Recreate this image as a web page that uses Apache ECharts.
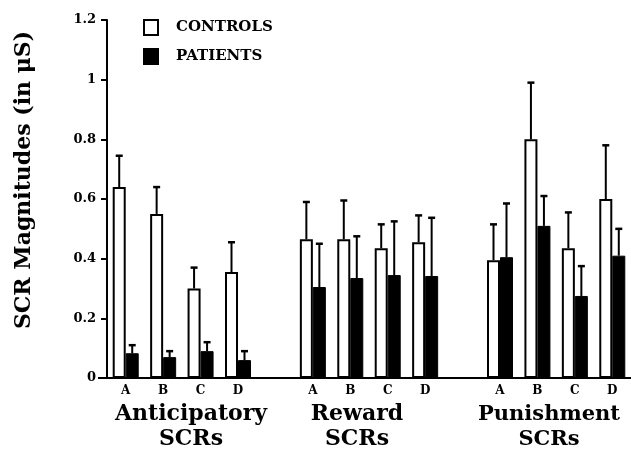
<!DOCTYPE html>
<html>
<head>
<meta charset="utf-8">
<script src="https://cdn.jsdelivr.net/npm/echarts@6/dist/echarts.min.js"></script>
<style>
  html, body { margin: 0; padding: 0; background: #fff; }
  #main { width: 631px; height: 449px; }
</style>
</head>
<body>
<div id="main"></div>
<script>
const groups = ["Anticipatory\nSCRs", "Reward\nSCRs", "Punishment\nSCRs"];
const conditions = ["A", "B", "C", "D"];
const yTicks = [0, 0.2, 0.4, 0.6, 0.8, 1, 1.2];

// means and standard errors, 4 per group
const controls = [0.64, 0.55, 0.30, 0.355, 0.465, 0.465, 0.435, 0.455, 0.395, 0.80, 0.435, 0.60];
const controlsErr = [0.105, 0.09, 0.07, 0.10, 0.125, 0.13, 0.08, 0.09, 0.12, 0.19, 0.12, 0.18];
const patients = [0.083, 0.07, 0.09, 0.06, 0.305, 0.335, 0.345, 0.342, 0.405, 0.51, 0.275, 0.41];
const patientsErr = [0.027, 0.02, 0.03, 0.03, 0.145, 0.14, 0.18, 0.195, 0.18, 0.10, 0.10, 0.09];

const font = "DejaVu Serif";

// one empty slot between groups
const slots = [];
groups.forEach(function (g, gi) {
  if (gi > 0) slots.push(null);
  conditions.forEach(function (c, ci) { slots.push(gi * 4 + ci); });
});
const categories = slots.map(function (k) { return k === null ? "" : conditions[k % 4]; });

function slotValues(arr) {
  return slots.map(function (k) { return k === null ? "-" : arr[k]; });
}
function errData(means, errs) {
  const out = [];
  slots.forEach(function (k, i) {
    if (k !== null) out.push([i, means[k], errs[k]]);
  });
  return out;
}

function errItem(offset) {
  return function (params, api) {
    const i = api.value(0);
    const base = api.coord([i, api.value(1)]);
    const top = api.coord([i, api.value(1) + api.value(2)]);
    const x = base[0] + offset;
    return {
      type: "group",
      children: [
        { type: "line", shape: { x1: x, y1: base[1], x2: x, y2: top[1] }, style: { stroke: "#000", lineWidth: 2 } },
        { type: "line", shape: { x1: x - 3.5, y1: top[1], x2: x + 3.5, y2: top[1] }, style: { stroke: "#000", lineWidth: 2.5 } }
      ]
    };
  };
}

const chart = echarts.init(document.getElementById("main"));

chart.setOption({
  animation: false,
  grid: { left: 107, right: 0, top: 20, bottom: 71 },
  legend: {
    left: 143, top: 19, padding: 0, orient: "vertical", icon: "rect",
    itemWidth: 14, itemHeight: 15, itemGap: 12,
    data: ["CONTROLS", "PATIENTS"],
    textStyle: { fontFamily: font, fontWeight: "bold", fontSize: 15, color: "#000", padding: [0, 0, 0, 13] }
  },
  xAxis: {
    type: "category",
    data: categories,
    axisLine: { lineStyle: { color: "#000", width: 2 } },
    axisTick: { show: false },
    axisLabel: { interval: 0, margin: 7, color: "#000", fontFamily: font, fontWeight: "bold", fontSize: 12 }
  },
  yAxis: {
    type: "value",
    min: 0, max: 1.2, interval: 0.2,
    splitLine: { show: false },
    axisLine: { show: true, lineStyle: { color: "#000", width: 2 } },
    axisTick: { show: true, length: 6, lineStyle: { color: "#000", width: 2 } },
    axisLabel: {
      margin: 11, color: "#000", fontFamily: font, fontWeight: "bold", fontSize: 13,
      formatter: function (v) { return String(Math.round(v * 10) / 10); }
    }
  },
  series: [
    {
      name: "CONTROLS", type: "bar", barWidth: 13, barGap: "0%",
      data: slotValues(controls),
      itemStyle: { color: "#fff", borderColor: "#000", borderWidth: 2 }
    },
    {
      name: "PATIENTS", type: "bar", barWidth: 13,
      data: slotValues(patients),
      itemStyle: { color: "#000", borderColor: "#000", borderWidth: 1 }
    },
    { type: "custom", renderItem: errItem(-6.5), data: errData(controls, controlsErr), z: 3 },
    { type: "custom", renderItem: errItem(6.5), data: errData(patients, patientsErr), z: 3 }
  ],
  graphic: [
    {
      type: "text", x: 24, y: 180, rotation: Math.PI / 2,
      style: { text: "SCR Magnitudes (in μS)", fontFamily: font, fontWeight: "bold", fontSize: 22, fill: "#000", align: "center", verticalAlign: "middle" }
    },
    {
      type: "text", x: 191, y: 402,
      style: { text: groups[0], fontFamily: font, fontWeight: "bold", fontSize: 22, lineHeight: 25, fill: "#000", align: "center" }
    },
    {
      type: "text", x: 357, y: 402,
      style: { text: groups[1], fontFamily: font, fontWeight: "bold", fontSize: 22, lineHeight: 25, fill: "#000", align: "center" }
    },
    {
      type: "text", x: 549, y: 402,
      style: { text: groups[2], fontFamily: font, fontWeight: "bold", fontSize: 21, lineHeight: 25, fill: "#000", align: "center" }
    },
    {
      type: "line", shape: { x1: 98, y1: 378, x2: 107, y2: 378 }, style: { stroke: "#000", lineWidth: 2 }
    }
  ]
});

window.onresize = function () {
  chart.resize();
};
</script>
</body>
</html>
